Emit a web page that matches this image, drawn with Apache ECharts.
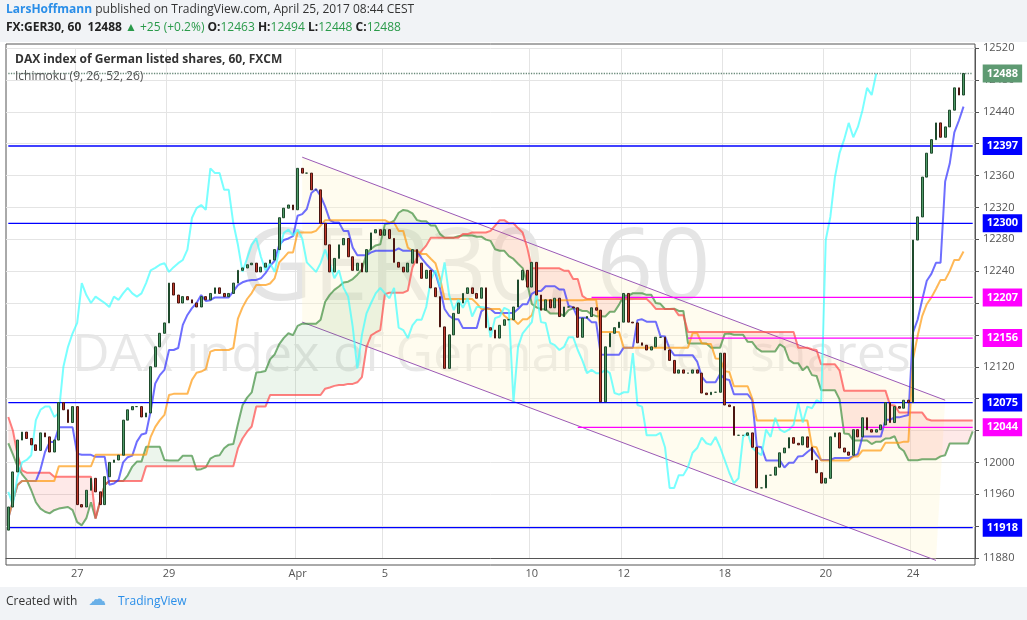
<!DOCTYPE html>
<html><head><meta charset="utf-8">
<script src="https://cdn.jsdelivr.net/npm/echarts@6/dist/echarts.min.js"></script>
<style>html,body{margin:0;padding:0;background:#fff}#c{width:1027px;height:620px}</style>
</head><body><div id="c"></div>
<script>
// ---- data (hourly closes of FX:GER30) ----
const closes = [11944,11988,12028,12038,12030,12022,12015,12037,12032,12013,12028,12075,12066,12050,12070,11947,11944,11965,11980,11963,
11947,11982,12000,12003,12009,12053,12066,12070,12070,12057,12062,12120,12145,12162,12175,12225,12210,12200,12208,12204,
12200,12195,12208,12204,12212,12219,12212,12208,12212,12225,12241,12244,12248,12250,12239,12245,12250,12254,12267,12307,
12319,12323,12317,12369,12363,12363,12342,12342,12300,12273,12239,12256,12273,12281,12258,12241,12250,12239,12267,12288,
12292,12285,12292,12281,12251,12245,12239,12250,12267,12250,12231,12241,12219,12208,12170,12118,12160,12187,12200,12212,
12219,12212,12206,12219,12169,12166,12156,12172,12179,12179,12195,12229,12241,12220,12251,12210,12191,12204,12194,12206,
12183,12195,12195,12194,12157,12181,12183,12194,12191,12076,12145,12162,12169,12176,12212,12176,12175,12150,12147,12141,
12145,12157,12157,12141,12128,12112,12116,12112,12112,12116,12112,12087,12085,12088,12088,12137,12072,12070,12034,12034,
12034,12037,12019,11968,11968,11984,11984,11994,12012,12018,12031,12024,12022,12032,12019,12003,11987,11974,11980,12032,
12037,12018,12013,12009,12041,12032,12056,12041,12038,12041,12047,12075,12050,12070,12068,12078,12075,12279,12308,12358,
12388,12405,12426,12408,12421,12442,12470,12461,12488];
const firstOpen = 11915;
// cloud values already projected onto the first bars (from earlier history)
const leadSpanA = [12024,12010,11995,11985,11978,11965,11950,11942,11938,11936,11940,11942,11943,11944,11940,11925,11921,11930,11950];
const leadSpanB = [12057,12040,12010,11990,11987,11987,11987,11987,11987,11987,11982,11982,11982,11982,11982,11982,11982,11982,11982];
const dayLabels = {15:'27',35:'29',63:'Apr',82:'5',114:'10',134:'12',156:'18',178:'20',197:'24'};
const yTicks = {min:11880,max:12520,step:40};
const levelsBlue = [12397,12300,12075,11918];
const levelsPink = [[12207,127],[12156,148],[12044,124]];
const lastPrice = 12488;
const channelUpper = [[64,12383],[204,12078]];
const channelLower = [[64,12176],[202,11877]];
const ichiPeriods = [7,19,38,19]; // 9,26,52,26 hourly scaled to bar spacing

const N = 211;
const cats = Array.from({length:N},(_,i)=>dayLabels[i]||'');
const opens = closes.map((c,i)=>i===0?firstOpen:closes[i-1]);
const highs = closes.map((c,i)=>Math.max(c,opens[i]));
const lows = closes.map((c,i)=>Math.min(c,opens[i]));
const candles = closes.map((c,i)=>[opens[i],c,lows[i],highs[i]]);
function mid(i,n){let h=-1e9,l=1e9;for(let k=Math.max(0,i-n+1);k<=i;k++){h=Math.max(h,highs[k]);l=Math.min(l,lows[k]);}return (h+l)/2;}
const [pT,pK,pB,shift]=ichiPeriods;
const tenkan = closes.map((_,i)=>mid(i,pT));
const kijun = closes.map((_,i)=>mid(i,pK));
const spanA = new Array(N).fill(null), spanB = new Array(N).fill(null);
for(let i=0;i<shift;i++){spanA[i]=leadSpanA[i];spanB[i]=leadSpanB[i];}
for(let i=0;i<closes.length;i++){const j=i+shift;if(j<N){spanA[j]=(tenkan[i]+kijun[i])/2;spanB[j]=mid(i,pB);}}
const chikou = closes.map((c,i)=>i-shift>=0?[i-shift,c]:null).filter(Boolean);
const base = spanA.map((a,i)=>Math.min(a,spanB[i]));
const greenBand = spanA.map((a,i)=>a>=spanB[i]?a-spanB[i]:0);
const redBand = spanA.map((a,i)=>spanB[i]>a?spanB[i]-a:0);

const lineS=(name,data,color)=>({name,type:'line',data,symbol:'none',lineStyle:{color,width:2,opacity:0.7},z:3,silent:true});
const tag=(bg,v)=>({show:true,position:'end',distance:5,color:'#fff',backgroundColor:bg,padding:[4,4,3,4],fontSize:11,fontWeight:'bold',fontFamily:'Open Sans',formatter:()=>String(v)});
const hLine=(v,s,color,bg,type)=>({type:'line',data:[[s,v],[N-1,v]],symbol:'none',silent:true,z:4,
  lineStyle:{color,width:1.3,type:type||'solid'},
  endLabel:{...tag(bg,v),distance:10}});

const chart = echarts.init(document.getElementById('c'));
chart.setOption({
  animation:false,
  backgroundColor:'#fff',
  grid:{left:6,right:52,top:48,bottom:62},
  xAxis:{type:'category',data:cats,boundaryGap:true,
    axisLine:{lineStyle:{color:'#555'}},axisTick:{show:false},
    axisLabel:{interval:(i)=>!!dayLabels[i],color:'#555',fontSize:11,fontFamily:'Open Sans',margin:10},
    splitLine:{show:true,interval:(i)=>!!dayLabels[i],lineStyle:{color:'#e4e4e4'}}},
  yAxis:{type:'value',position:'right',min:yTicks.min,max:yTicks.max,interval:yTicks.step,
    axisLine:{show:true,lineStyle:{color:'#555'}},axisTick:{show:true,length:4,lineStyle:{color:'#555'}},
    axisLabel:{color:'#555',fontSize:11,fontFamily:'Open Sans',margin:8,formatter:v=>String(v)},
    splitLine:{lineStyle:{color:'#e4e4e4'}}},
  graphic:[
    {type:'rect',shape:{x:0,y:0,width:1027,height:42},style:{fill:'#f1f3f6'},z:-10},
    {type:'rect',shape:{x:0,y:587,width:1027,height:33},style:{fill:'#f1f3f6'},z:-10},
    {type:'rect',shape:{x:6,y:44,width:969,height:521},style:{fill:'none',stroke:'#555',lineWidth:1},z:-5},
    {type:'text',left:6,top:4,style:{text:'{a|LarsHoffmann} published on TradingView.com, April 25, 2017 08:44 CEST',font:'12px "Open Sans"',fill:'#333',rich:{a:{fill:'#2a8ee8',font:'bold 12px "Open Sans"'}}}},
    {type:'text',left:6,top:22,style:{text:'FX:GER30, 60  12488 {g|▲} {g|+25 (+0.2%)} O:{g|12463} H:{g|12494} L:{g|12448} C:{g|12488}',font:'bold 12px "Open Sans"',fill:'#222',rich:{g:{fill:'#2a9a4a',font:'12px "Open Sans"'}}}},
    {type:'text',left:15,top:54,style:{text:'DAX index of German listed shares, 60, FXCM',font:'bold 12px "Open Sans"',fill:'#333'},z:20},
    {type:'text',left:15,top:71,style:{text:'Ichimoku (9, 26, 52, 26)',font:'12px "Open Sans"',fill:'#555'},z:20},
    {type:'text',left:240,top:222,style:{text:'GER30, 60',font:'100px "Open Sans"',fill:'rgba(0,0,0,0.1)'},z:-1},
    {type:'text',left:72,top:330,style:{text:'DAX index of German listed shares',font:'52px "Open Sans"',fill:'rgba(0,0,0,0.09)'},z:-1},
    {type:'text',left:6,top:596,style:{text:'Created with',font:'12px "Open Sans"',fill:'#333'}},
    {type:'text',left:118,top:596,style:{text:'TradingView',font:'12px "Open Sans"',fill:'#2a8ee8'}},
    {type:'text',left:88,top:591,style:{text:'☁',font:'18px "DejaVu Sans"',fill:'#6ab0e8'}}
  ],
  series:[
    {type:'custom',data:[0],z:1,silent:true,renderItem:(params,api)=>{
      const pts=[api.coord(channelUpper[0]),api.coord(channelUpper[1]),api.coord(channelLower[1]),api.coord(channelLower[0])];
      return {type:'group',children:[
        {type:'polygon',shape:{points:pts},style:{fill:'rgba(255,245,210,0.35)'}},
        {type:'line',shape:{x1:pts[0][0],y1:pts[0][1],x2:pts[1][0],y2:pts[1][1]},style:{stroke:'#9b59b6',lineWidth:1}},
        {type:'line',shape:{x1:pts[3][0],y1:pts[3][1],x2:pts[2][0],y2:pts[2][1]},style:{stroke:'#9b59b6',lineWidth:1}}]};
    }},
    {type:'line',data:base,stack:'cloud',symbol:'none',lineStyle:{width:0},silent:true,z:2},
    {type:'line',data:greenBand,stack:'cloud',symbol:'none',lineStyle:{width:0},areaStyle:{color:'rgba(76,160,76,0.15)'},silent:true,z:2},
    {type:'line',data:redBand,stack:'cloud',symbol:'none',lineStyle:{width:0},areaStyle:{color:'rgba(244,80,70,0.18)'},silent:true,z:2},
    lineS('Lead 1',spanA,'#3f8f3f'),
    lineS('Lead 2',spanB,'#ff4a4a'),
    lineS('Conversion',tenkan,'#3030ff'),
    lineS('Base',kijun,'#ff9a10'),
    lineS('Lagging',chikou,'#40ffff'),
    ...levelsBlue.map(v=>hLine(v,0,'#0000ff','#0000ff')),
    ...levelsPink.map(([v,s])=>hLine(v,s,'#ff00ff','#ff00ff')),
    hLine(lastPrice,0,'#6a8a7a','#5e9a72','dotted'),
    {type:'candlestick',data:candles,barMaxWidth:3.2,z:5,
      itemStyle:{color:'#4f9a68',color0:'#c0392b',borderColor:'#1e4a2c',borderColor0:'#4a1510',borderWidth:1}}
  ]
});
</script></body></html>
